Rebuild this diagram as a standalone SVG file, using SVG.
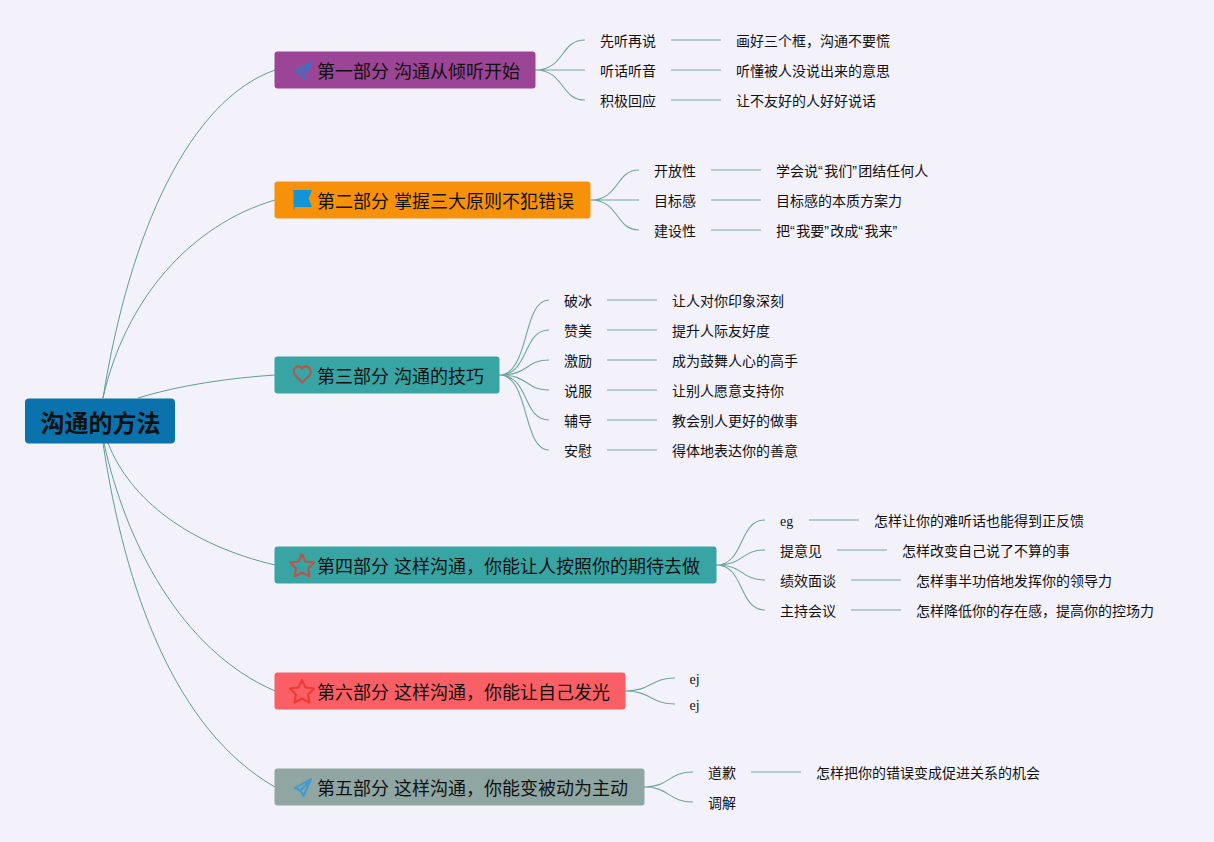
<svg xmlns="http://www.w3.org/2000/svg" width="1214" height="842" viewBox="0 0 1214 842">
<style>
text{font-family:"Liberation Sans","Noto Sans CJK SC",sans-serif;fill:#111}
.t{font-size:18px}.s{font-size:14px}.r{font-size:24px;font-weight:700}
.lat{font-family:"Liberation Serif","Noto Sans CJK SC",serif}
.c{fill:none;stroke:#5f9c96;stroke-width:1}
.b{fill:none;stroke:#6fa5a0;stroke-width:1.1}
.l{fill:none;stroke:#a3c0bd;stroke-width:1.6}
.i{fill:none;stroke-width:2;stroke-linejoin:round}
</style>
<rect width="1214" height="842" fill="#f3f2fb"/>
<g id="connectors">
<path class="c" d="M103 398C130 230 190 100 275 70"/>
<path class="c" d="M103 398C125 300 190 225 275 200"/>
<path class="c" d="M138 398C180 385 230 378 275 375"/>
<path class="c" d="M108 443C130 500 190 545 275 565"/>
<path class="c" d="M104 443C125 540 180 650 275 691"/>
<path class="c" d="M103 443C125 590 175 730 275 787"/>
<path class="b" d="M535 70C565 70 560 40 585 40M535 70H585M535 70C565 70 560 100 585 100"/>
<path class="b" d="M590 200C620 200 615 170 639 170M590 200H639M590 200C620 200 615 230 639 230"/>
<path class="b" d="M499 375C530 375 522 300 549 300M499 375C530 375 522 330 549 330M499 375C530 375 525 360 549 360M499 375C530 375 525 390 549 390M499 375C530 375 522 420 549 420M499 375C530 375 522 450 549 450"/>
<path class="b" d="M716 565C745 565 738 520 765 520M716 565C745 565 740 550 765 550M716 565C745 565 740 580 765 580M716 565C745 565 738 610 765 610"/>
<path class="b" d="M625 691C652 691 650 678 675 678M625 691C652 691 650 704 675 704"/>
<path class="b" d="M644 787C670 787 668 772 693 772M644 787C670 787 668 802 693 802"/>
<path class="l" d="M671 40H721M671 70H721M671 100H721M711 170H761M711 200H761M711 230H761M607 300H657M607 330H657M607 360H657M607 390H657M607 420H657M607 450H657M809 520H859M837 550H887M851 580H901M851 610H901M751 772H801"/>
</g>
<g id="root"><rect x="25" y="398.500" width="150" height="45" rx="4" fill="#0a72ad"/><text class="r" x="40.500" y="432">沟通的方法</text></g>
<g id="n1"><rect x="274.500" y="51.500" width="261" height="37" rx="3" fill="#9c4496"/>
<path class="i" stroke="#3f6fc0" d="M311.500 62.500L295 71L300.500 73.500L304 78.500L311.500 62.500ZM300.500 73.500L311.500 62.500"/>
<text class="t" x="317" y="78">第一部分 沟通从倾听开始</text></g>
<g id="n2"><rect x="274.500" y="181.500" width="316" height="37" rx="3" fill="#f79109"/>
<path fill="#1295d8" d="M293.500 190H312L308.500 198.500L312 207H294.500V210H293.500Z"/>
<text class="t" x="317" y="208">第二部分 掌握三大原则不犯错误</text></g>
<g id="n3"><rect x="274.500" y="356.500" width="225" height="37" rx="3" fill="#38a4a4"/>
<path class="i" stroke="#bd5346" d="M302 382.500L295 375C291 368 299 363 302 369C305 363 313 368 310 375Z"/>
<text class="t" x="317" y="383">第三部分 沟通的技巧</text></g>
<g id="n4"><rect x="274.500" y="546.500" width="442" height="37" rx="3" fill="#38a4a4"/>
<path class="i" stroke="#bd5346" d="M302 554L305.500 561.500L314 562.500L308 568.500L309.500 576.500L302 572.500L294.500 576.500L296 568.500L290 562.500L298.500 561.500Z"/>
<text class="t" x="317" y="573">第四部分 这样沟通，你能让人按照你的期待去做</text></g>
<g id="n6"><rect x="274.500" y="672.500" width="351" height="37" rx="3" fill="#f95f64"/>
<path class="i" stroke="#ee3a30" d="M302 680L305.500 687.500L314 688.500L308 694.500L309.500 702.500L302 698.500L294.500 702.500L296 694.500L290 688.500L298.500 687.500Z"/>
<text class="t" x="317" y="699">第六部分 这样沟通，你能让自己发光</text></g>
<g id="n5"><rect x="274.500" y="768.500" width="370" height="37" rx="3" fill="#8fa6a3"/>
<path class="i" stroke="#3d9bd0" d="M311 779L295 788L300.500 790.500L303.500 796L311 779ZM300.500 790.500L311 779"/>
<text class="t" x="317" y="795">第五部分 这样沟通，你能变被动为主动</text></g>
<g id="labels">
<text class="s" x="600" y="46">先听再说</text><text class="s" x="736" y="46">画好三个框，沟通不要慌</text>
<text class="s" x="600" y="76">听话听音</text><text class="s" x="736" y="76">听懂被人没说出来的意思</text>
<text class="s" x="600" y="106">积极回应</text><text class="s" x="736" y="106">让不友好的人好好说话</text>
<text class="s" x="654" y="176">开放性</text><text class="s" x="776" y="176">学会说“<tspan dx="1.500">我们</tspan>”<tspan dx="1.500">团结任何人</tspan></text>
<text class="s" x="654" y="206">目标感</text><text class="s" x="776" y="206">目标感的本质方案力</text>
<text class="s" x="654" y="236">建设性</text><text class="s" x="776" y="236">把“<tspan dx="1.500">我要</tspan>”<tspan dx="1.500">改成</tspan>“<tspan dx="1.500">我来</tspan>”</text>
<text class="s" x="564" y="306">破冰</text><text class="s" x="672" y="306">让人对你印象深刻</text>
<text class="s" x="564" y="336">赞美</text><text class="s" x="672" y="336">提升人际友好度</text>
<text class="s" x="564" y="366">激励</text><text class="s" x="672" y="366">成为鼓舞人心的高手</text>
<text class="s" x="564" y="396">说服</text><text class="s" x="672" y="396">让别人愿意支持你</text>
<text class="s" x="564" y="426">辅导</text><text class="s" x="672" y="426">教会别人更好的做事</text>
<text class="s" x="564" y="456">安慰</text><text class="s" x="672" y="456">得体地表达你的善意</text>
<text class="s lat" x="780" y="526">eg</text><text class="s" x="874" y="526">怎样让你的难听话也能得到正反馈</text>
<text class="s" x="780" y="556">提意见</text><text class="s" x="902" y="556">怎样改变自己说了不算的事</text>
<text class="s" x="780" y="586">绩效面谈</text><text class="s" x="916" y="586">怎样事半功倍地发挥你的领导力</text>
<text class="s" x="780" y="616">主持会议</text><text class="s" x="916" y="616">怎样降低你的存在感，提高你的控场力</text>
<text class="s lat" x="689.500" y="684">ej</text>
<text class="s lat" x="689.500" y="710">ej</text>
<text class="s" x="708" y="778">道歉</text><text class="s" x="816" y="778">怎样把你的错误变成促进关系的机会</text>
<text class="s" x="708" y="808">调解</text>
</g>
</svg>
